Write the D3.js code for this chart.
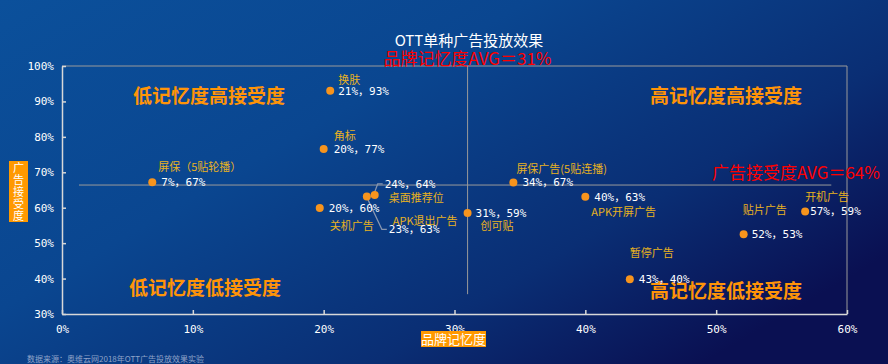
<!DOCTYPE html>
<html>
<head>
<meta charset="utf-8">
<script src="https://cdn.jsdelivr.net/npm/d3@7"></script>
<style>
  html, body { margin: 0; padding: 0; background: #0a3d85; }
  svg { display: block; font-family: "Noto Sans CJK SC", "Noto Sans", sans-serif; }
</style>
</head>
<body>
<div id="chart"></div>
<script>
//*************************1. Data

const adNames = ["换肤", "角标", "屏保（5贴轮播）", "关机广告", "桌面推荐位", "APK退出广告",
  "创可贴", "屏保广告(5贴连播)", "APK开屏广告", "贴片广告", "开机广告", "暂停广告"]
const memoryRate = [20.5, 20, 6.9, 19.7, 23.9, 23.3, 31.0, 34.5, 40, 52.1, 56.8, 43.4]
const acceptRate = [93, 76.6, 67.2, 59.9, 63.6, 63.2, 58.5, 67.1, 63.1, 52.5, 58.9, 39.8]
const valueLabels = ["21%，93%", "20%，77%", "7%，67%", "20%，60%", "24%，64%", "23%，63%",
  "31%，59%", "34%，67%", "40%，63%", "52%，53%", "57%，59%", "43%，40%"]

const xTicks = [0, 10, 20, 30, 40, 50, 60]
const yTicks = [30, 40, 50, 60, 70, 80, 90, 100]

const memoryAvg = 31
const acceptAvg = 64
const acceptLineAt = 66.4   // where the horizontal average line sits in the picture

const quadrantNames = ["低记忆度高接受度", "高记忆度高接受度", "低记忆度低接受度", "高记忆度低接受度"]

//*************************2. Canvas

const width = 888, height = 364
const margin = {top: 66, right: 41, bottom: 48, left: 62}

const svg = d3.select("#chart").append("svg")
  .attr("width", width)
  .attr("height", height)

const defs = svg.append("defs")
const grad = defs.append("linearGradient")
  .attr("id", "bg")
  .attr("x1", 0).attr("y1", 0).attr("x2", 1).attr("y2", 0.7)
grad.append("stop").attr("offset", "0%").attr("stop-color", "#0b509b")
grad.append("stop").attr("offset", "40%").attr("stop-color", "#0a4690")
grad.append("stop").attr("offset", "75%").attr("stop-color", "#0a2e74")
grad.append("stop").attr("offset", "100%").attr("stop-color", "#0a1052")

svg.append("rect").attr("width", width).attr("height", height).attr("fill", "url(#bg)")

//*************************3. Scales

const x = d3.scaleLinear().domain([0, 60]).range([margin.left, width - margin.right])
const y = d3.scaleLinear().domain([30, 100]).range([height - margin.bottom - 2, margin.top])

const monoFont = "'DejaVu Sans Mono', 'Noto Sans CJK SC', monospace"

//*************************4. Frame + axes

// top and right frame
svg.append("path")
  .attr("d", `M${x(0)},${y(100)}H${x(60)}V${y(30)}`)
  .attr("fill", "none")
  .attr("stroke", "#9a9a9a")
  .attr("stroke-width", 1)

const yAxis = d3.axisLeft(y).tickValues(yTicks).tickSize(-4).tickSizeOuter(0).tickPadding(8)
  .tickFormat(d => d + "%")
const xAxis = d3.axisBottom(x).tickValues(xTicks).tickSize(-4).tickSizeOuter(0).tickPadding(11)
  .tickFormat(d => d + "%")

const yG = svg.append("g").attr("transform", `translate(${x(0)},0)`).call(yAxis)
const xG = svg.append("g").attr("transform", `translate(0,${y(30)})`).call(xAxis)

;[yG, xG].forEach(g => {
  g.select(".domain").attr("stroke", "#d8d8d8").attr("stroke-width", 1.5)
  g.selectAll(".tick line").attr("stroke", "#d8d8d8").attr("stroke-width", 1.5)
  g.selectAll(".tick text")
    .attr("fill", "#ffffff")
    .style("font-family", monoFont)
    .style("font-size", "11px")
})

//*************************5. Average lines

svg.append("line")
  .attr("x1", x(memoryAvg)).attr("x2", x(memoryAvg))
  .attr("y1", y(100)).attr("y2", y(35.6))
  .attr("stroke", "#9a9a9a").attr("stroke-width", 1)

svg.append("line")
  .attr("x1", x(1.3)).attr("x2", x(58.8))
  .attr("y1", y(acceptLineAt)).attr("y2", y(acceptLineAt))
  .attr("stroke", "#9a9a9a").attr("stroke-width", 1)

//*************************6. Titles

svg.append("text")
  .attr("x", 469).attr("y", 46)
  .attr("text-anchor", "middle")
  .attr("fill", "#ffffff")
  .style("font-size", "15px")
  .text("OTT单种广告投放效果")

svg.append("text")
  .attr("x", x(memoryAvg)).attr("y", 65)
  .attr("text-anchor", "middle")
  .attr("fill", "#ff0000")
  .style("font-size", "17px")
  .text(`品牌记忆度AVG＝${memoryAvg}%`)

svg.append("text")
  .attr("x", 712).attr("y", 179)
  .attr("fill", "#ff0000")
  .style("font-size", "17px")
  .text(`广告接受度AVG＝${acceptAvg}%`)

// quadrant labels
const quadPos = [[209, 103], [726, 103], [205, 295], [726, 298]]
svg.selectAll(".quad")
  .data(quadrantNames)
  .join("text")
  .attr("class", "quad")
  .attr("x", (d, i) => quadPos[i][0])
  .attr("y", (d, i) => quadPos[i][1])
  .attr("text-anchor", "middle")
  .attr("fill", "#ff9408")
  .style("font-size", "19px")
  .style("font-weight", "bold")
  .text(d => d)

//*************************7. Axis titles

const yBox = svg.append("g").attr("transform", "translate(9,161)")
yBox.append("rect").attr("width", 19).attr("height", 61).attr("fill", "#ff9900")
yBox.selectAll("text")
  .data("广告接受度".split(""))
  .join("text")
  .attr("x", 9.5)
  .attr("y", (d, i) => 11 + i * 12)
  .attr("text-anchor", "middle")
  .attr("fill", "#ffffff")
  .style("font-size", "11px")
  .text(d => d)

const xBox = svg.append("g").attr("transform", "translate(421,331)")
xBox.append("rect").attr("width", 65).attr("height", 16).attr("fill", "#ff9900")
xBox.append("text")
  .attr("x", 32.5).attr("y", 13)
  .attr("text-anchor", "middle")
  .attr("fill", "#ffffff")
  .style("font-size", "13px")
  .text("品牌记忆度")

svg.append("text")
  .attr("x", 27).attr("y", 362)
  .attr("fill", "#8fa3c8")
  .style("font-size", "8px")
  .text("数据来源：奥维云网2018年OTT广告投放效果实验")

//*************************8. Points + labels

const points = adNames.map((name, i) => ({
  name, mem: memoryRate[i], acc: acceptRate[i], label: valueLabels[i]
}))

// label offsets from the dot: [nameDx, nameDy, valueDx, valueDy]
const offsets = [
  [8, -11, 8, 0], [10, -13, 10, 0], [6, -15, 9, 0], [10, 18, 9, 0],
  [14, 3, 10, -11], [26, 25, 22, 33], [13, 13, 8, 0], [3, -13, 9, 0],
  [6, 15, 9, 0], [-1, -24, 8, 0], [0, -14, 5, 0], [0, -26, 9, 0]
]

// leader lines for the two crowded points
const leaders = {
  4: [[0, -3], [3, -11], [8, -11]],
  5: [[1, 3], [15, 33], [20, 33]]
}
Object.keys(leaders).forEach(k => {
  const p = points[k]
  const px = x(p.mem), py = y(p.acc)
  svg.append("path")
    .attr("d", d3.line()(leaders[k].map(([dx, dy]) => [px + dx, py + dy])))
    .attr("fill", "none")
    .attr("stroke", "#8896b0")
    .attr("stroke-width", 1.2)
})

svg.selectAll(".dot")
  .data(points)
  .join("circle")
  .attr("class", "dot")
  .attr("cx", d => x(d.mem))
  .attr("cy", d => y(d.acc))
  .attr("r", 4)
  .attr("fill", "#f7941d")

svg.selectAll(".name")
  .data(points)
  .join("text")
  .attr("class", "name")
  .attr("x", (d, i) => x(d.mem) + offsets[i][0])
  .attr("y", (d, i) => y(d.acc) + offsets[i][1])
  .attr("dy", "0.35em")
  .attr("fill", "#e8b21e")
  .style("font-size", "11px")
  .text(d => d.name)

svg.selectAll(".val")
  .data(points)
  .join("text")
  .attr("class", "val")
  .attr("x", (d, i) => x(d.mem) + offsets[i][2])
  .attr("y", (d, i) => y(d.acc) + offsets[i][3])
  .attr("dy", "0.35em")
  .attr("fill", "#ffffff")
  .style("font-family", monoFont)
  .style("font-size", "11px")
  .text(d => d.label)
</script>
</body>
</html>
